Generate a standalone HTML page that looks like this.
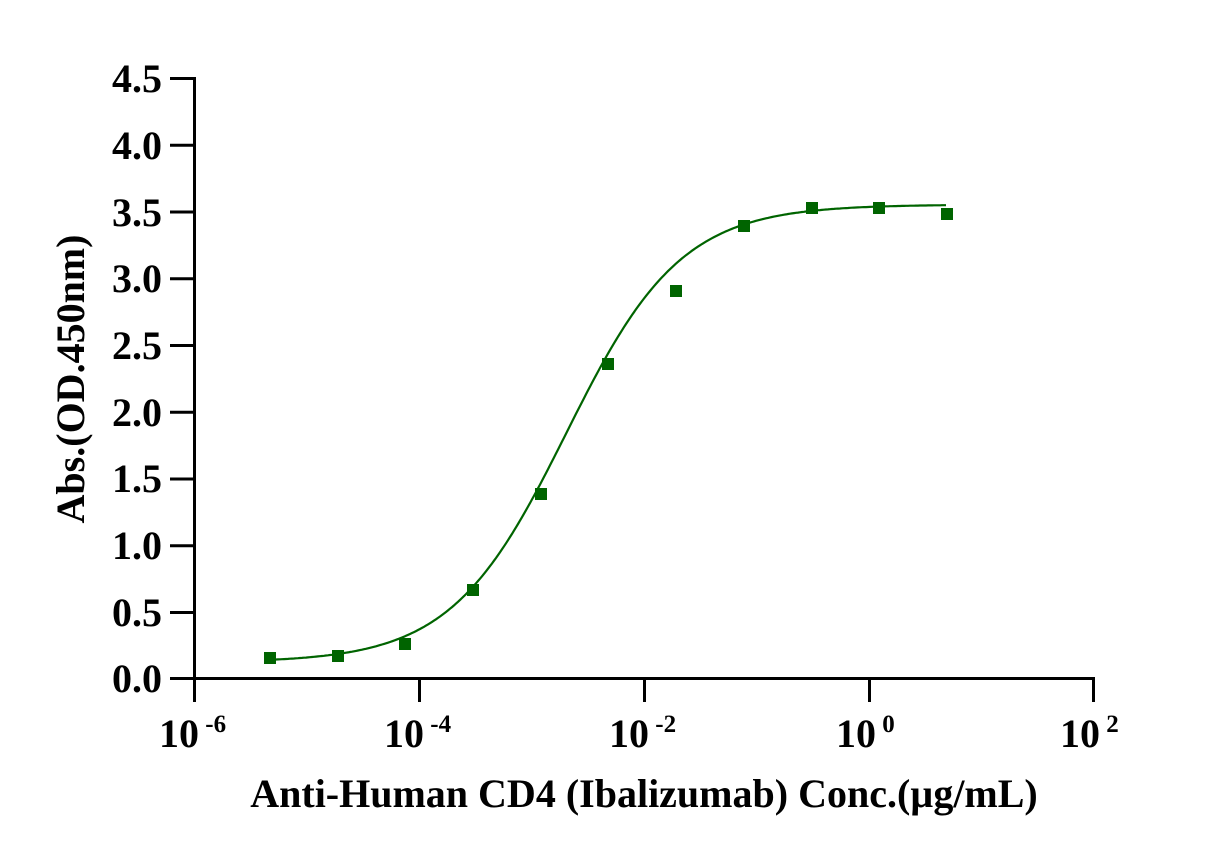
<!DOCTYPE html>
<html><head><meta charset="utf-8"><style>
html,body{margin:0;padding:0;background:#fff;}
svg{display:block;}
text{font-family:"Liberation Serif",serif;font-weight:bold;fill:#000;}
</style></head><body>
<svg width="1219" height="861" viewBox="0 0 1219 861">
<g stroke="#000" stroke-width="3" fill="none">
<line x1="194.5" y1="77" x2="194.5" y2="680"/>
<line x1="193" y1="678.5" x2="1095" y2="678.5"/>
<line x1="170" y1="78.5" x2="194" y2="78.5"/>
<line x1="170" y1="145.3" x2="194" y2="145.3"/>
<line x1="170" y1="212" x2="194" y2="212"/>
<line x1="170" y1="278.8" x2="194" y2="278.8"/>
<line x1="170" y1="345.5" x2="194" y2="345.5"/>
<line x1="170" y1="412.3" x2="194" y2="412.3"/>
<line x1="170" y1="479" x2="194" y2="479"/>
<line x1="170" y1="545.8" x2="194" y2="545.8"/>
<line x1="170" y1="612.5" x2="194" y2="612.5"/>
<line x1="170" y1="678.5" x2="194" y2="678.5"/>
<line x1="194.5" y1="678" x2="194.5" y2="702"/>
<line x1="419.5" y1="678" x2="419.5" y2="702"/>
<line x1="644.5" y1="678" x2="644.5" y2="702"/>
<line x1="869.5" y1="678" x2="869.5" y2="702"/>
<line x1="1093.5" y1="678" x2="1093.5" y2="702"/>
</g>
<g font-size="40" text-anchor="end">
<text x="162" y="92">4.5</text>
<text x="162" y="159">4.0</text>
<text x="162" y="226">3.5</text>
<text x="162" y="292">3.0</text>
<text x="162" y="359">2.5</text>
<text x="162" y="426">2.0</text>
<text x="162" y="492">1.5</text>
<text x="162" y="559">1.0</text>
<text x="162" y="626">0.5</text>
<text x="162" y="692">0.0</text>
</g>
<g font-size="40">
<text x="159" y="747">10<tspan font-size="25" dy="-15"> -6</tspan></text>
<text x="384" y="747">10<tspan font-size="25" dy="-15"> -4</tspan></text>
<text x="609" y="747">10<tspan font-size="25" dy="-15"> -2</tspan></text>
<text x="836" y="747">10<tspan font-size="25" dy="-15"> 0</tspan></text>
<text x="1060" y="747">10<tspan font-size="25" dy="-15"> 2</tspan></text>
</g>
<text x="644" y="807" font-size="40" text-anchor="middle">Anti-Human CD4 (Ibalizumab) Conc.(µg/mL)</text>
<text transform="translate(84,379) rotate(-90)" font-size="40" text-anchor="middle">Abs.(OD.450nm)</text>
<path id="curve" fill="none" stroke="#006400" stroke-width="2.2" d=""/>
<g fill="#006400">
<rect x="264" y="652" width="12" height="12"/>
<rect x="332" y="650" width="12" height="12"/>
<rect x="399" y="638" width="12" height="12"/>
<rect x="467" y="584" width="12" height="12"/>
<rect x="535" y="488" width="12" height="12"/>
<rect x="602" y="358" width="12" height="12"/>
<rect x="670" y="285" width="12" height="12"/>
<rect x="738" y="220" width="12" height="12"/>
<rect x="806" y="202" width="12" height="12"/>
<rect x="873" y="202" width="12" height="12"/>
<rect x="941" y="208" width="12" height="12"/>
</g>
</svg>
<script>
var d="";
for(var x=270;x<=947;x+=2){
 var L=-6+(x-194.5)/112.6;
 var v=0.12+3.43/(1+Math.pow(10,(-2.7-L)*0.85));
 var y=678.5-v*133.5;
 d+=(d?"L":"M")+x+","+y.toFixed(1);
}
document.getElementById("curve").setAttribute("d",d);
</script>
</body></html>
